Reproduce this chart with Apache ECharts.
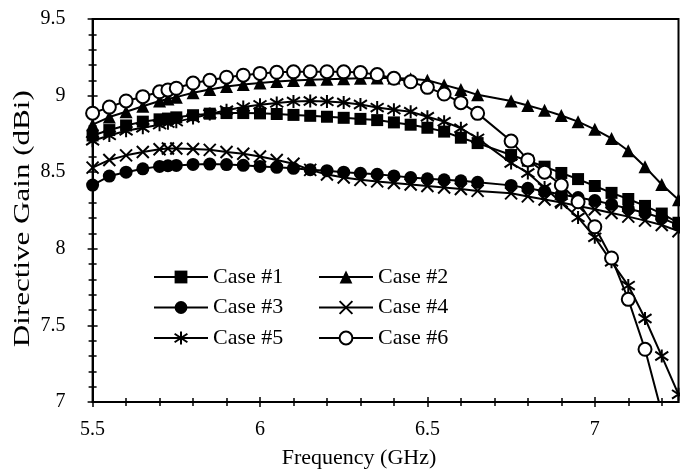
<!DOCTYPE html>
<html>
<head>
<meta charset="utf-8">
<script src="https://cdn.jsdelivr.net/npm/echarts@6/dist/echarts.min.js"></script>
<style>
  html, body { margin: 0; padding: 0; background: #fff; }
  #chart { width: 680px; height: 470px; }
</style>
</head>
<body>
<div id="chart"></div>
<script>
// Frequency sweep (GHz)
const freq = [5.5, 5.55, 5.6, 5.65, 5.7, 5.725, 5.75, 5.8, 5.85, 5.9, 5.95, 6.0, 6.05, 6.1, 6.15, 6.2, 6.25, 6.3,
  6.35, 6.4, 6.45, 6.5, 6.55, 6.6, 6.65, 6.75, 6.8, 6.85, 6.9, 6.95, 7.0, 7.05, 7.1, 7.15, 7.2, 7.25];

// Directive gain (dBi) per case
const case1 = [8.74, 8.775, 8.805, 8.83, 8.845, 8.85, 8.858, 8.872, 8.882, 8.886, 8.886, 8.884, 8.88, 8.874, 8.868, 8.862, 8.855, 8.848,
  8.84, 8.825, 8.81, 8.79, 8.765, 8.725, 8.69, 8.612, 8.575, 8.536, 8.495, 8.455, 8.41, 8.365, 8.325, 8.28, 8.23, 8.17];
const case2 = [8.81, 8.86, 8.895, 8.93, 8.965, 8.978, 8.99, 9.018, 9.04, 9.06, 9.072, 9.083, 9.092, 9.098, 9.103, 9.107, 9.11, 9.113,
  9.115, 9.115, 9.11, 9.1, 9.07, 9.04, 9.005, 8.965, 8.935, 8.905, 8.87, 8.83, 8.78, 8.72, 8.64, 8.535, 8.42, 8.32];
const case3 = [8.416, 8.475, 8.5, 8.522, 8.538, 8.542, 8.544, 8.551, 8.553, 8.55, 8.545, 8.538, 8.532, 8.525, 8.516, 8.51, 8.5, 8.493,
  8.486, 8.476, 8.465, 8.457, 8.45, 8.444, 8.434, 8.414, 8.395, 8.375, 8.355, 8.335, 8.315, 8.29, 8.262, 8.235, 8.2, 8.155];
const case4 = [8.53, 8.58, 8.61, 8.632, 8.65, 8.655, 8.655, 8.651, 8.646, 8.632, 8.62, 8.602, 8.58, 8.555, 8.515, 8.485, 8.465, 8.45,
  8.44, 8.43, 8.42, 8.41, 8.4, 8.39, 8.378, 8.362, 8.342, 8.322, 8.302, 8.28, 8.258, 8.234, 8.21, 8.184, 8.155, 8.115];
const case5 = [8.705, 8.74, 8.77, 8.79, 8.81, 8.82, 8.83, 8.853, 8.88, 8.905, 8.925, 8.94, 8.952, 8.962, 8.965, 8.962, 8.955, 8.942,
  8.922, 8.908, 8.895, 8.862, 8.83, 8.787, 8.721, 8.56, 8.495, 8.4, 8.3, 8.205, 8.075, 7.915, 7.76, 7.545, 7.3, 7.05];
const case6 = [8.885, 8.925, 8.965, 8.993, 9.025, 9.037, 9.048, 9.082, 9.1, 9.12, 9.133, 9.145, 9.152, 9.155, 9.156, 9.156, 9.155, 9.15,
  9.137, 9.113, 9.09, 9.054, 9.01, 8.954, 8.884, 8.703, 8.58, 8.5, 8.416, 8.307, 8.144, 7.94, 7.67, 7.344, 6.93, 6.5];

const caseNames = ['Case #1', 'Case #2', 'Case #3', 'Case #4', 'Case #5', 'Case #6'];

// Axis ticks and labels
const xMajor = [5.5, 6, 6.5, 7];
const xMinor = [5.6, 5.7, 5.8, 5.9, 6.1, 6.2, 6.3, 6.4, 6.6, 6.7, 6.8, 6.9, 7.1, 7.2];
const yMajor = [7, 7.5, 8, 8.5, 9, 9.5];
const yMinor = [7.1, 7.2, 7.3, 7.4, 7.6, 7.7, 7.8, 7.9, 8.1, 8.2, 8.3, 8.4, 8.6, 8.7, 8.8, 8.9, 9.1, 9.2, 9.3, 9.4];

const FONT = '"Liberation Serif", "Times New Roman", serif';
const BLACK = '#000';

const X_MIN = 5.5, X_MAX = 7.25, Y_MIN = 7, Y_MAX = 9.5;

function xAxisDef(ticks, inside, len, main) {
  return {
    type: 'value', min: X_MIN, max: X_MAX, position: 'bottom',
    axisLine: { show: main, onZero: false, lineStyle: { color: BLACK, width: 2 } },
    axisTick: { show: true, inside: inside, length: len, customValues: ticks, lineStyle: { color: BLACK, width: 1.5 } },
    axisLabel: main ? { show: true, customValues: xMajor, margin: 18, color: BLACK, fontFamily: FONT, fontSize: 20 } : { show: false },
    splitLine: { show: false }
  };
}
function yAxisDef(ticks, inside, len, main) {
  return {
    type: 'value', min: Y_MIN, max: Y_MAX, position: 'left',
    axisLine: { show: main, onZero: false, lineStyle: { color: BLACK, width: 2 } },
    axisTick: { show: true, inside: inside, length: len, customValues: ticks, lineStyle: { color: BLACK, width: 1.5 } },
    axisLabel: main ? { show: true, customValues: yMajor, margin: 27, color: BLACK, fontFamily: FONT, fontSize: 20 } : { show: false },
    splitLine: { show: false }
  };
}

const crossPath = 'path://M0,0L10,10M10,0L0,10';
const starPath = 'path://M5,0L5,12M0,2L10,10M10,2L0,10';

const markers = [
  { symbol: 'rect', size: 12, fill: BLACK, border: BLACK, bw: 0 },
  { symbol: 'triangle', size: 13, fill: BLACK, border: BLACK, bw: 0 },
  { symbol: 'circle', size: 13, fill: BLACK, border: BLACK, bw: 0 },
  { symbol: crossPath, size: 12, fill: 'rgba(0,0,0,0)', border: BLACK, bw: 2 },
  { symbol: starPath, size: 13, fill: 'rgba(0,0,0,0)', border: BLACK, bw: 2 },
  { symbol: 'circle', size: 13, fill: '#fff', border: BLACK, bw: 2 }
];
const values = [case1, case2, case3, case4, case5, case6];

const series = values.map((vals, i) => ({
  name: caseNames[i],
  type: 'line',
  data: freq.map((f, k) => [f, vals[k]]),
  symbol: markers[i].symbol,
  symbolSize: markers[i].size,
  showSymbol: true,
  clip: true,
  lineStyle: { color: BLACK, width: 2 },
  itemStyle: { color: markers[i].fill, borderColor: markers[i].border, borderWidth: markers[i].bw },
  emphasis: { disabled: true },
  z: 2 + i
}));

function legendDef(names, left) {
  return {
    data: names, orient: 'vertical', left: left, top: 266, padding: 0,
    itemWidth: 54, itemHeight: 16, itemGap: 8.5,
    textStyle: { color: BLACK, fontFamily: FONT, fontSize: 22, lineHeight: 22 },
    selectedMode: false
  };
}

const chart = echarts.init(document.getElementById('chart'), null, { renderer: 'canvas' });
chart.setOption({
  animation: false,
  backgroundColor: '#fff',
  grid: { left: 92.6, right: 1.5, top: 19, bottom: 68, show: true, borderColor: BLACK, borderWidth: 2, containLabel: false },
  xAxis: [
    xAxisDef(xMajor, false, 5, true),
    xAxisDef(xMajor, true, 5, false),
    xAxisDef(xMinor, false, 4, false),
    xAxisDef(xMinor, true, 4, false)
  ],
  yAxis: [
    yAxisDef(yMajor, false, 5, true),
    yAxisDef(yMajor, true, 5, false),
    yAxisDef(yMinor, false, 4, false),
    yAxisDef(yMinor, true, 4, false)
  ],
  legend: [
    legendDef(['Case #1', 'Case #3', 'Case #5'], 153),
    legendDef(['Case #2', 'Case #4', 'Case #6'], 318)
  ],
  series: series,
  graphic: [
    {
      type: 'text', x: 22.5, y: 218.7, rotation: Math.PI / 2, scaleX: 1.35,
      style: { text: 'Directive Gain (dBi)', font: '23px ' + FONT, fill: BLACK, textAlign: 'center', textVerticalAlign: 'middle' }
    },
    {
      type: 'text', x: 359, y: 458,
      style: { text: 'Frequency (GHz)', font: '22px ' + FONT, fill: BLACK, textAlign: 'center', textVerticalAlign: 'middle' }
    }
  ]
});
</script>
</body>
</html>
